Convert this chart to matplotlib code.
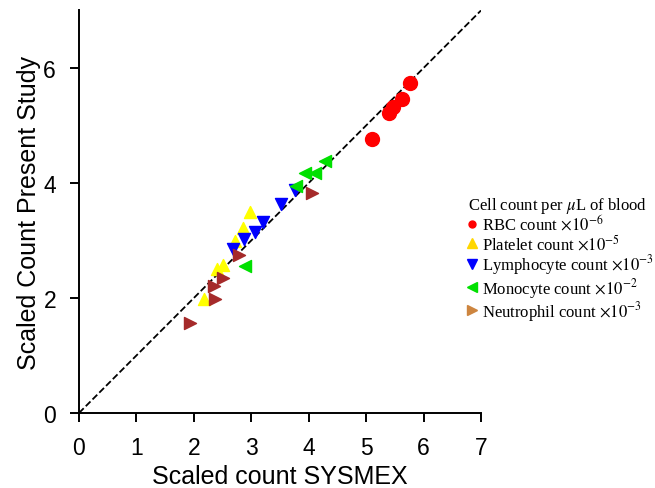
import matplotlib
matplotlib.use("Agg")
import matplotlib.pyplot as plt
from matplotlib.lines import Line2D

plt.rcParams['font.family'] = ['Liberation Sans', 'DejaVu Sans']
plt.rcParams['mathtext.fontset'] = 'stix'

rbc_x = [5.10, 5.40, 5.47, 5.62, 5.77]
rbc_y = [4.77, 5.22, 5.32, 5.46, 5.74]

plt_x = [2.97, 2.85, 2.72, 2.51, 2.41, 2.18]
plt_y = [3.49, 3.21, 2.99, 2.57, 2.50, 1.98]

lym_x = [3.76, 3.51, 3.21, 3.07, 2.87, 2.68]
lym_y = [3.87, 3.64, 3.32, 3.15, 3.03, 2.86]

mono_x = [4.29, 4.11, 3.94, 3.78, 2.89]
mono_y = [4.39, 4.17, 4.17, 3.95, 2.55]

neu_x = [4.06, 2.78, 2.51, 2.35, 2.37, 1.93]
neu_y = [3.82, 2.75, 2.35, 2.21, 1.99, 1.56]

labels = [r"RBC count $\times10^{-6}$",
          r"Platelet count $\times10^{-5}$",
          r"Lymphocyte count $\times10^{-3}$",
          r"Monocyte count $\times10^{-2}$",
          r"Neutrophil count $\times10^{-3}$"]
legend_title = r"Cell count per $\mu$L of blood"

fig = plt.figure(figsize=(6.55, 4.89), dpi=100)
ax = fig.add_axes([0.1206, 0.1534, 0.6137, 0.8231])

ax.plot([0, 7], [0, 7], ls='--', color='black', lw=1.3, zorder=1)

ax.scatter(rbc_x, rbc_y, s=100, marker='o', color='#ff0000', zorder=3)
ax.scatter(plt_x, plt_y, s=75, marker='^', color='#ffff00', zorder=3)
ax.scatter(lym_x, lym_y, s=75, marker='v', color='#0000ff', zorder=3)
ax.scatter(mono_x, mono_y, s=75, marker='<', color='#00e000', zorder=3)
ax.scatter(neu_x, neu_y, s=75, marker='>', color='#a52a2a', zorder=3)

ax.set_xlim(0, 7)
ax.set_ylim(0, 7)
ax.set_xticks(range(0, 8))
ax.set_yticks([0, 2, 4, 6])
for s in ['top', 'right']:
    ax.spines[s].set_visible(False)
for s in ['left', 'bottom']:
    ax.spines[s].set_linewidth(1.4)
ax.tick_params(direction='out', length=6.5, width=1.4, labelsize=16.5, pad=10)
ax.set_xlabel("Scaled count SYSMEX", fontsize=18, labelpad=4)
ax.set_ylabel("Scaled Count Present Study", fontsize=18, labelpad=2)

handles = [
    Line2D([], [], ls='', marker='o', color='#ff0000', markersize=5),
    Line2D([], [], ls='', marker='^', color='#ffd700', markersize=6.5),
    Line2D([], [], ls='', marker='v', color='#0000ff', markersize=6.5),
    Line2D([], [], ls='', marker='<', color='#00e000', markersize=6.5),
    Line2D([], [], ls='', marker='>', color='#cd853f', markersize=6.5),
]
leg = fig.legend(handles, labels, title=legend_title, loc='upper left',
                 bbox_to_anchor=(0.697, 0.624), frameon=False,
                 prop={'family': 'Liberation Serif', 'size': 12},
                 handlelength=0.5, handletextpad=0.35, labelspacing=-0.04,
                 borderpad=0.2)
leg.get_title().set_fontfamily('Liberation Serif')
leg.get_title().set_fontsize(12)
leg._legend_box.align = "left"

fig.savefig("out.png", dpi=100)
